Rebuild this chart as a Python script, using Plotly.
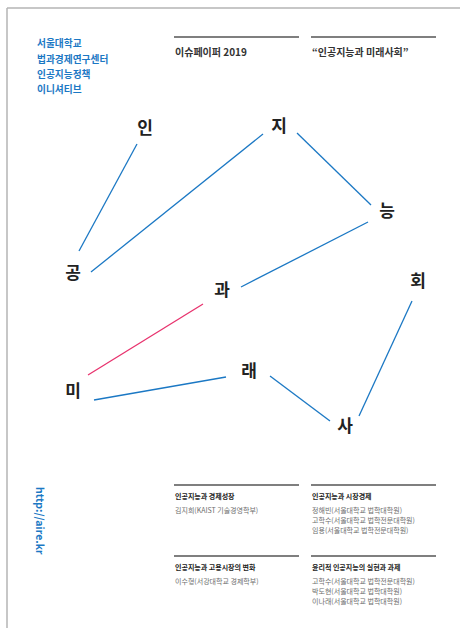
import plotly.graph_objects as go

W, H = 460, 628
BLUE = "#1b78c4"
PINK = "#e8336e"
DARK = "#222222"
GRAY = "#6e6e6e"
FONT = "Noto Sans CJK KR"

# Big characters (nodes) and their positions on the page
node_chars = ["인", "공", "지", "능", "과", "미", "래", "사", "회"]
node_x = [145, 73, 279, 387, 222, 73, 249, 345, 418]
node_y = [130, 275, 128, 213, 292, 393, 373, 428, 283]

# Connecting segments
seg_x0 = [137, 91, 297, 368, 203, 94, 270, 359]
seg_y0 = [144, 272, 133, 222, 304, 400, 376, 416]
seg_x1 = [79, 263, 371, 241, 88, 226, 330, 412]
seg_y1 = [251, 134, 205, 287, 375, 377, 421, 301]
seg_col = ["b", "b", "b", "b", "p", "b", "b", "b"]

# Institution block
inst_lines = ["서울대학교", "법과경제연구센터", "인공지능정책", "이니셔티브"]
inst_y = [43, 59, 74, 89]

# Header
header_texts = ["이슈페이퍼 2019", "“인공지능과 미래사회”"]
header_x = [174, 311]

# Bottom contents
col_x = [174, 311]
titles = [
    ["인공지능과 경제성장", "인공지능과 고용시장의 변화"],
    ["인공지능과 시장경제", "윤리적 인공지능의 실현과 과제"],
]
authors = [
    [["김지희(KAIST 기술경영학부)"], ["이수형(서강대학교 경제학부)"]],
    [["정해빈(서울대학교 법학대학원)", "고학수(서울대학교 법학전문대학원)", "임용(서울대학교 법학전문대학원)"],
     ["고학수(서울대학교 법학전문대학원)", "박도현(서울대학교 법학대학원)", "이나래(서울대학교 법학대학원)"]],
]
url = "http://aire.kr"

fig = go.Figure()

for key, color in [("b", BLUE), ("p", PINK)]:
    xs, ys = [], []
    for i, c in enumerate(seg_col):
        if c == key:
            xs += [seg_x0[i], seg_x1[i], None]
            ys += [seg_y0[i], seg_y1[i], None]
    fig.add_trace(go.Scatter(x=xs, y=ys, mode="lines",
                             line=dict(color=color, width=1.3),
                             hoverinfo="skip", showlegend=False))

fig.add_trace(go.Scatter(x=node_x, y=node_y, mode="text", text=node_chars,
                         textfont=dict(family=FONT, size=17, color=DARK, weight="bold"),
                         hoverinfo="skip", showlegend=False))

ann = []
for t, y in zip(inst_lines, inst_y):
    ann.append(dict(x=35, y=y, text=t, xanchor="left", yanchor="middle",
                    font=dict(family=FONT, size=9.7, color=BLUE, weight="bold")))
for t, x in zip(header_texts, header_x):
    ann.append(dict(x=x - 1, y=51, text=t, xanchor="left", yanchor="middle",
                    font=dict(family=FONT, size=10, color="#333333", weight="bold")))

block_rule_y = [485, 556]
title_y = [496, 567]
for ci, x in enumerate(col_x):
    for bi in range(2):
        ann.append(dict(x=x - 1, y=title_y[bi], text=titles[ci][bi], xanchor="left", yanchor="middle",
                        font=dict(family=FONT, size=7, color=DARK, weight="bold")))
        for ai, a in enumerate(authors[ci][bi]):
            ann.append(dict(x=x - 1, y=title_y[bi] + 14 + ai * 10, text=a, xanchor="left", yanchor="middle",
                            font=dict(family=FONT, size=7, color=GRAY)))

ann.append(dict(x=41, y=521, text=url, textangle=90, xanchor="center", yanchor="middle",
                font=dict(family=FONT, size=10.5, color=BLUE, weight="bold")))

for a in ann:
    a.update(xref="x", yref="y", showarrow=False)

shapes = []
# page frame
shapes.append(dict(type="line", x0=7, x1=W, y0=8, y1=8, line=dict(color="#b5b5b5", width=1.5)))
shapes.append(dict(type="line", x0=7, x1=7, y0=8, y1=H, line=dict(color="#b5b5b5", width=1.5)))
# header rules
for x in header_x:
    shapes.append(dict(type="line", x0=x, x1=x + 125, y0=37, y1=37, line=dict(color="#555555", width=1.5)))
for x in col_x:
    for y in block_rule_y:
        shapes.append(dict(type="line", x0=x, x1=x + 125, y0=y, y1=y, line=dict(color="#555555", width=1.5)))
for s in shapes:
    s.update(xref="x", yref="y", layer="below")

fig.update_layout(
    width=W, height=H,
    margin=dict(l=0, r=0, t=0, b=0),
    paper_bgcolor="white", plot_bgcolor="white",
    xaxis=dict(range=[0, W], visible=False, fixedrange=True),
    yaxis=dict(range=[H, 0], visible=False, fixedrange=True),
    annotations=ann, shapes=shapes,
)

fig.write_html("out.html", config={"displayModeBar": False},
               post_script="document.body.style.margin='0';document.body.style.overflow='hidden';")
